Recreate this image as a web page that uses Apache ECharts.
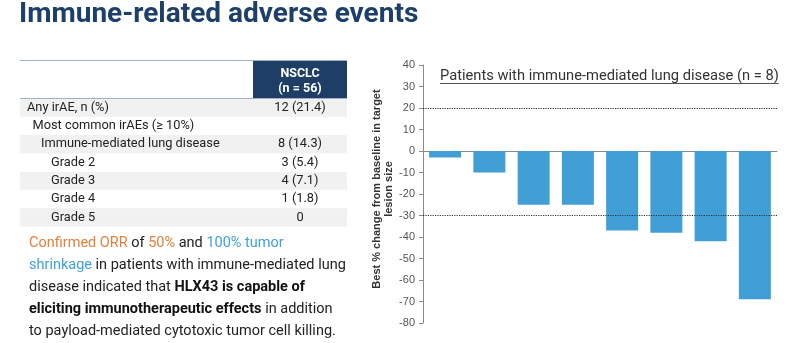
<!DOCTYPE html>
<html>
<head>
<meta charset="utf-8">
<script src="https://cdn.jsdelivr.net/npm/echarts@6/dist/echarts.min.js"></script>
<style>
html,body{margin:0;padding:0;background:#fff;}
#main{width:800px;height:343px;}
</style>
</head>
<body>
<div id="main"></div>
<script>
// ---- data ----
const slideTitle = 'Immune-related adverse events';
const chartTitle = 'Patients with immune-mediated lung disease (n = 8)';
const patients = ['Pt 1', 'Pt 2', 'Pt 3', 'Pt 4', 'Pt 5', 'Pt 6', 'Pt 7', 'Pt 8'];
const bestChange = [-3, -10, -25, -25, -37, -38, -42, -69];
const referenceLines = [20, -30];
const yMin = -80, yMax = 40, yStep = 10;
const yAxisName = 'Best % change from baseline in target\nlesion size';

const tableHeader = ['NSCLC', '(n = 56)'];
const rowLabels = ['Any irAE, n (%)', 'Most common irAEs (\u2265 10%)', 'Immune-mediated lung disease', 'Grade 2', 'Grade 3', 'Grade 4', 'Grade 5'];
const rowValues = ['12 (21.4)', '', '8 (14.3)', '3 (5.4)', '4 (7.1)', '1 (1.8)', '0'];
const rowLevels = [0, 1, 2, 3, 3, 3, 3];

const noteLines = [
  [['o', 'Confirmed ORR'], ['n', ' of '], ['o', '50%'], ['n', ' and '], ['b', '100% tumor']],
  [['b', 'shrinkage'], ['n', ' in patients with immune-mediated lung']],
  [['n', 'disease indicated that '], ['k', 'HLX43 is capable of']],
  [['k', 'eliciting immunotherapeutic effects'], ['n', ' in addition']],
  [['n', 'to payload-mediated cytotoxic tumor cell killing.']]
];

// ---- layout ----
const FONT = 'Roboto, "Noto Sans", sans-serif';
const tblL = 20, tblR = 347, hdrL = 253, tblTop = 60.5, hdrBottom = 98.5, rowH = 18.3, valX = 300;
const indentPx = [7, 12.5, 21, 31];

function measure(text, font) {
  const c = document.createElement('canvas').getContext('2d');
  c.font = font;
  return c.measureText(text).width;
}

const graphics = [];
// slide title
graphics.push({ type: 'text', left: 19, top: 1, style: { text: slideTitle, font: 'bold 28px ' + FONT, fill: '#1d3f68' } });

// table header
graphics.push({ type: 'rect', shape: { x: hdrL, y: tblTop, width: tblR - hdrL, height: hdrBottom - tblTop }, style: { fill: '#1f3e66' } });
graphics.push({ type: 'line', shape: { x1: tblL, y1: tblTop, x2: tblR, y2: tblTop }, style: { stroke: '#9fb1c8', lineWidth: 1.2 } });
graphics.push({ type: 'line', shape: { x1: tblL, y1: hdrBottom, x2: tblR, y2: hdrBottom }, style: { stroke: '#9fb1c8', lineWidth: 1 } });
tableHeader.forEach((t, i) => {
  graphics.push({ type: 'text', x: valX, y: 73.5 + i * 15, style: { text: t, font: 'bold 12.5px ' + FONT, fill: '#ffffff', align: 'center', verticalAlign: 'middle' } });
});
rowLabels.forEach((lab, i) => {
  const top = hdrBottom + i * rowH;
  if (i % 2 === 0) {
    graphics.push({ type: 'rect', shape: { x: tblL, y: top, width: tblR - tblL, height: rowH }, style: { fill: '#f1f1f1' }, z: -1 });
  }
  graphics.push({ type: 'text', x: tblL + indentPx[rowLevels[i]], y: top + rowH / 2, style: { text: lab, font: '12.8px ' + FONT, fill: '#222', verticalAlign: 'middle' } });
  if (rowValues[i]) {
    graphics.push({ type: 'text', x: valX, y: top + rowH / 2, style: { text: rowValues[i], font: '12.8px ' + FONT, fill: '#222', align: 'center', verticalAlign: 'middle' } });
  }
});

// note paragraph
const rich = {
  n: { fontSize: 14.5, fontFamily: FONT, fill: '#222' },
  o: { fontSize: 14.5, fontFamily: FONT, fill: '#e57f3c' },
  b: { fontSize: 14.5, fontFamily: FONT, fill: '#3ca3d8' },
  k: { fontSize: 14.5, fontFamily: FONT, fill: '#111', fontWeight: 'bold' }
};
noteLines.forEach((segs, i) => {
  const txt = segs.map(s => '{' + s[0] + '|' + s[1] + '}').join('');
  graphics.push({ type: 'text', x: 29, y: 243.3 + i * 22, style: { text: txt, rich: rich, verticalAlign: 'middle' } });
});

// chart title with underline
const ctX = 440, ctY = 76, ctFont = '14.7px ' + FONT;
const ctW = measure(chartTitle, ctFont);
graphics.push({ type: 'text', x: ctX, y: ctY, style: { text: chartTitle, font: ctFont, fill: '#333', verticalAlign: 'middle' } });
graphics.push({ type: 'line', shape: { x1: ctX, y1: ctY + 7.5, x2: ctX + ctW, y2: ctY + 7.5 }, style: { stroke: '#555', lineWidth: 1 } });

const chart = echarts.init(document.getElementById('main'), null, { renderer: 'canvas' });
chart.setOption({
  animation: false,
  backgroundColor: '#fff',
  textStyle: { fontFamily: FONT },
  grid: { left: 423, right: 23, top: 65, bottom: 20, containLabel: false },
  xAxis: {
    type: 'category',
    data: patients,
    axisLine: { onZero: true, lineStyle: { color: '#8a8a8a', width: 1 } },
    axisTick: { show: false },
    axisLabel: { show: false },
    splitLine: { show: false }
  },
  yAxis: {
    type: 'value',
    min: yMin, max: yMax, interval: yStep,
    name: yAxisName,
    nameLocation: 'middle',
    nameGap: 18,
    nameTextStyle: { fontSize: 11, fontWeight: 'bold', color: '#333', lineHeight: 12, fontFamily: 'Liberation Sans, Arial, sans-serif', padding: [0, 0, 0, 10] },
    axisLine: { show: true, lineStyle: { color: '#8a8a8a' } },
    axisTick: { show: true, length: 4, lineStyle: { color: '#8a8a8a' } },
    axisLabel: { color: '#555', fontSize: 11, margin: 8, fontFamily: 'Liberation Sans, Arial, sans-serif' },
    splitLine: { show: false }
  },
  series: [{
    type: 'bar',
    data: bestChange,
    barWidth: 32,
    itemStyle: { color: '#419fd6' },
    markLine: {
      symbol: 'none',
      silent: true,
      label: { show: false },
      lineStyle: { type: 'dotted', color: '#333', width: 1.2 },
      data: referenceLines.map(v => ({ yAxis: v }))
    }
  }],
  graphic: graphics
});
</script>
</body>
</html>
